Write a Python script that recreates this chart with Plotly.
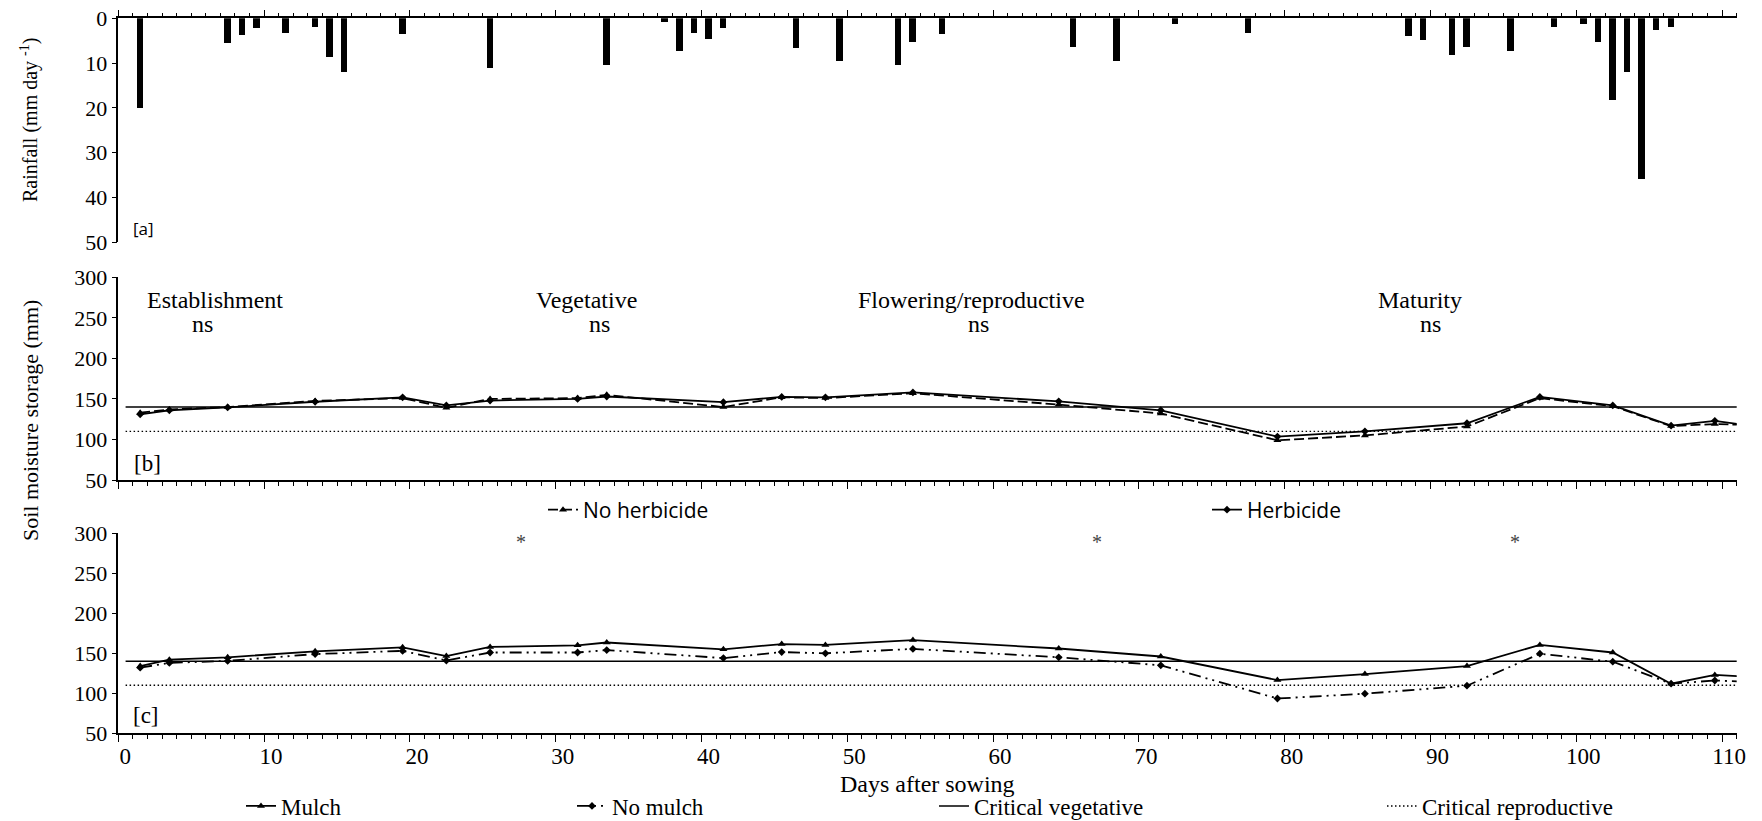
import plotly.graph_objects as go

W, H = 1762, 821
SERIF = "Liberation Serif"
SANS = "Open Sans"

# Daily rainfall (mm day-1) on rain days
rain_days = [1, 7, 8, 9, 11, 13, 14, 15, 19, 25, 33, 37, 38, 39, 40, 41, 46, 49, 53, 54,
             56, 65, 68, 72, 77, 88, 89, 91, 92, 95, 98, 100, 101, 102, 103, 104, 105, 106]
rain_mm = [20.0, 5.5, 3.7, 2.2, 3.4, 2.0, 8.8, 12.1, 3.5, 11.1, 10.6, 1.0, 7.3, 3.4, 4.6, 2.3,
           6.8, 9.7, 10.6, 5.4, 3.6, 6.5, 9.7, 1.3, 3.4, 4.1, 5.0, 8.2, 6.5, 7.4, 2.1, 1.3,
           5.4, 18.2, 12.1, 36.0, 2.6, 1.9]

# Soil moisture storage (mm) on sampling days
sm_days = [1, 3, 7, 13, 19, 22, 25, 31, 33, 41, 45, 48, 54, 64, 71, 79, 85, 92, 97, 102, 106, 109, 111]
no_herbicide = [133, 137, 140, 147.5, 151, 139, 150, 151, 155, 140, 152, 151, 157, 143, 132,
                99, 105, 116, 151, 141, 116.5, 119, 118]
herbicide = [131, 136, 139.5, 146.5, 152, 142, 148, 150, 153, 146, 152.5, 152, 158, 147, 136,
             103.5, 110, 120, 152.5, 142, 117, 123, 118]
mulch = [134, 142, 145, 152.5, 157.5, 146.5, 158, 160, 163.5, 155, 161.5, 160.5, 166.5, 156, 146,
         116.5, 124, 134, 160.5, 151, 112, 123, 121]
no_mulch = [132, 138, 140.5, 149, 153, 141, 151, 151, 154, 144, 151.5, 150, 155.5, 145, 135,
            93.5, 99.5, 109.5, 149.5, 139.5, 112, 116, 114.5]

# Critical soil moisture thresholds (mm)
crit_days = [0, 111]
crit_vegetative = [140, 140]
crit_reproductive = [110, 110]

# Growth stages and significance
stage_names = ["Establishment", "Vegetative", "Flowering/reproductive", "Maturity"]
stage_tests = ["ns", "ns", "ns", "ns"]
stage_name_x = [6.1, 31.6, 58.0, 88.8]
stage_test_x = [5.3, 32.5, 58.5, 89.5]
signif_x = [27.1, 66.6, 95.3]

x_tick_pos = [-0.5 + 10 * i for i in range(12)]
x_tick_text = [str(10 * i) for i in range(12)]


def py(p):
    return 1 - p / H


def px(p):
    return p / W


XDOM = [px(118.3), px(1736.7)]
DOM_A = [py(242.3), py(18.3)]
DOM_B = [py(480.0), py(277.3)]
DOM_C = [py(733.3), py(533.3)]

fig = go.Figure()

fig.add_trace(go.Bar(x=rain_days, y=rain_mm, xaxis="x", yaxis="y", width=0.45,
                     marker=dict(color="black", line=dict(width=0)), showlegend=False))

# Panel b: herbicide treatments
fig.add_trace(go.Scatter(x=crit_days, y=crit_vegetative, xaxis="x2", yaxis="y2", mode="lines",
                         line=dict(color="black", width=1.6), showlegend=False))
fig.add_trace(go.Scatter(x=crit_days, y=crit_reproductive, xaxis="x2", yaxis="y2", mode="lines",
                         line=dict(color="black", width=1.4, dash="1.5px,2.5px"), showlegend=False))
fig.add_trace(go.Scatter(x=sm_days, y=no_herbicide, xaxis="x2", yaxis="y2", mode="lines+markers",
                         name="No herbicide", legend="legend",
                         line=dict(color="black", width=1.8, dash="10px,4px"),
                         marker=dict(symbol="triangle-up", size=7, color="black")))
fig.add_trace(go.Scatter(x=sm_days, y=herbicide, xaxis="x2", yaxis="y2", mode="lines+markers",
                         name="Herbicide", legend="legend2",
                         line=dict(color="black", width=1.8),
                         marker=dict(symbol="diamond", size=6, color="black")))

# Panel c: mulch treatments
fig.add_trace(go.Scatter(x=sm_days, y=mulch, xaxis="x3", yaxis="y3", mode="lines+markers",
                         name="Mulch", legend="legend3",
                         line=dict(color="black", width=1.8),
                         marker=dict(symbol="triangle-up", size=7, color="black")))
fig.add_trace(go.Scatter(x=sm_days, y=no_mulch, xaxis="x3", yaxis="y3", mode="lines+markers",
                         name="No mulch", legend="legend4",
                         line=dict(color="black", width=1.8, dash="12px,5px,2px,5px,2px,5px"),
                         marker=dict(symbol="diamond", size=6, color="black")))
fig.add_trace(go.Scatter(x=crit_days, y=crit_vegetative, xaxis="x3", yaxis="y3", mode="lines",
                         name="Critical vegetative", legend="legend5",
                         line=dict(color="black", width=1.6)))
fig.add_trace(go.Scatter(x=crit_days, y=crit_reproductive, xaxis="x3", yaxis="y3", mode="lines",
                         name="Critical reproductive", legend="legend6",
                         line=dict(color="black", width=1.4, dash="1.5px,2.5px")))

minor_x = dict(tickmode="linear", tick0=-0.5, dtick=1, ticks="outside", ticklen=4,
               tickwidth=1.2, tickcolor="black", showgrid=False)
xcommon = dict(domain=XDOM, range=[-0.5, 110.5], tickmode="array", tickvals=x_tick_pos,
               ticktext=x_tick_text, ticks="outside", ticklen=7, tickwidth=1.3, tickcolor="black",
               showline=True, linecolor="black", linewidth=1.5, showgrid=False, zeroline=False,
               minor=minor_x, automargin=False,
               tickfont=dict(family=SERIF, size=23, color="black"))
ycommon = dict(ticks="outside", ticklen=5, tickwidth=1.3, tickcolor="black", showline=True,
               linecolor="black", linewidth=1.5, showgrid=False, zeroline=False, automargin=False,
               tickfont=dict(family=SERIF, size=22, color="black"))

fig.update_layout(
    width=W, height=H, margin=dict(l=0, r=0, t=0, b=0, autoexpand=False),
    paper_bgcolor="white", plot_bgcolor="white", bargap=0,
    xaxis=dict(xcommon, anchor="y", side="top", showticklabels=False),
    xaxis2=dict(xcommon, anchor="y2", showticklabels=False),
    xaxis3=dict(xcommon, anchor="y3", showticklabels=True, ticklabelshift=7,
                ticklabelstandoff=-6),
    yaxis=dict(ycommon, domain=DOM_A, anchor="x", range=[50, 0], tickmode="array",
               tickvals=[0, 10, 20, 30, 40, 50]),
    yaxis2=dict(ycommon, domain=DOM_B, anchor="x2", range=[50, 300], tickmode="array",
                tickvals=[50, 100, 150, 200, 250, 300]),
    yaxis3=dict(ycommon, domain=DOM_C, anchor="x3", range=[50, 300], tickmode="array",
                tickvals=[50, 100, 150, 200, 250, 300]),
)

# Individually placed legends
legend_spec = [
    ("legend", 583, 510, SANS, 21),
    ("legend2", 1247, 510, SANS, 21),
    ("legend3", 281, 806, SERIF, 23),
    ("legend4", 612, 806, SERIF, 23),
    ("legend5", 974, 806, SERIF, 23),
    ("legend6", 1422, 806, SERIF, 23),
]
for key, text_x, y, fam, size in legend_spec:
    fig.update_layout({key: dict(x=px(text_x - 40), y=py(y), xanchor="left", yanchor="middle",
                                 orientation="h", bgcolor="rgba(0,0,0,0)", borderwidth=0,
                                 font=dict(family=fam, size=size, color="black"))})

ann = []
for name, nx in zip(stage_names, stage_name_x):
    ann.append(dict(x=nx, y=272, xref="x2", yref="y2", text=name, showarrow=False,
                    xanchor="center", yanchor="middle",
                    font=dict(family=SERIF, size=24, color="black")))
for t, tx in zip(stage_tests, stage_test_x):
    ann.append(dict(x=tx, y=242, xref="x2", yref="y2", text=t, showarrow=False,
                    xanchor="center", yanchor="middle",
                    font=dict(family=SERIF, size=24, color="black")))
for sx in signif_x:
    ann.append(dict(x=sx, y=289, xref="x3", yref="y3", text="*", showarrow=False,
                    xanchor="center", yanchor="middle",
                    font=dict(family=SERIF, size=20, color="#444444")))
ann.append(dict(x=1.2, y=47, xref="x", yref="y", text="[a]", showarrow=False,
                xanchor="center", yanchor="middle",
                font=dict(family=SANS, size=17, color="black")))
ann.append(dict(x=1.5, y=70, xref="x2", yref="y2", text="[b]", showarrow=False,
                xanchor="center", yanchor="middle",
                font=dict(family=SERIF, size=23, color="black")))
ann.append(dict(x=1.4, y=72.5, xref="x3", yref="y3", text="[c]", showarrow=False,
                xanchor="center", yanchor="middle",
                font=dict(family=SERIF, size=23, color="black")))
ann.append(dict(x=px(30), y=py(120), xref="paper", yref="paper", textangle=-90,
                xanchor="center", yanchor="middle",
                text="Rainfall (mm day <sup>-1</sup>)", showarrow=False,
                font=dict(family=SERIF, size=20, color="black")))
ann.append(dict(x=px(30), y=py(421), xref="paper", yref="paper", textangle=-90,
                xanchor="center", yanchor="middle",
                text="Soil moisture storage (mm)", showarrow=False,
                font=dict(family=SERIF, size=22, color="black")))
ann.append(dict(x=px(927.5), y=py(784), xref="paper", yref="paper",
                xanchor="center", yanchor="middle",
                text="Days after sowing", showarrow=False,
                font=dict(family=SERIF, size=24, color="black")))
fig.update_layout(annotations=ann)

fig.write_html("out.html")
